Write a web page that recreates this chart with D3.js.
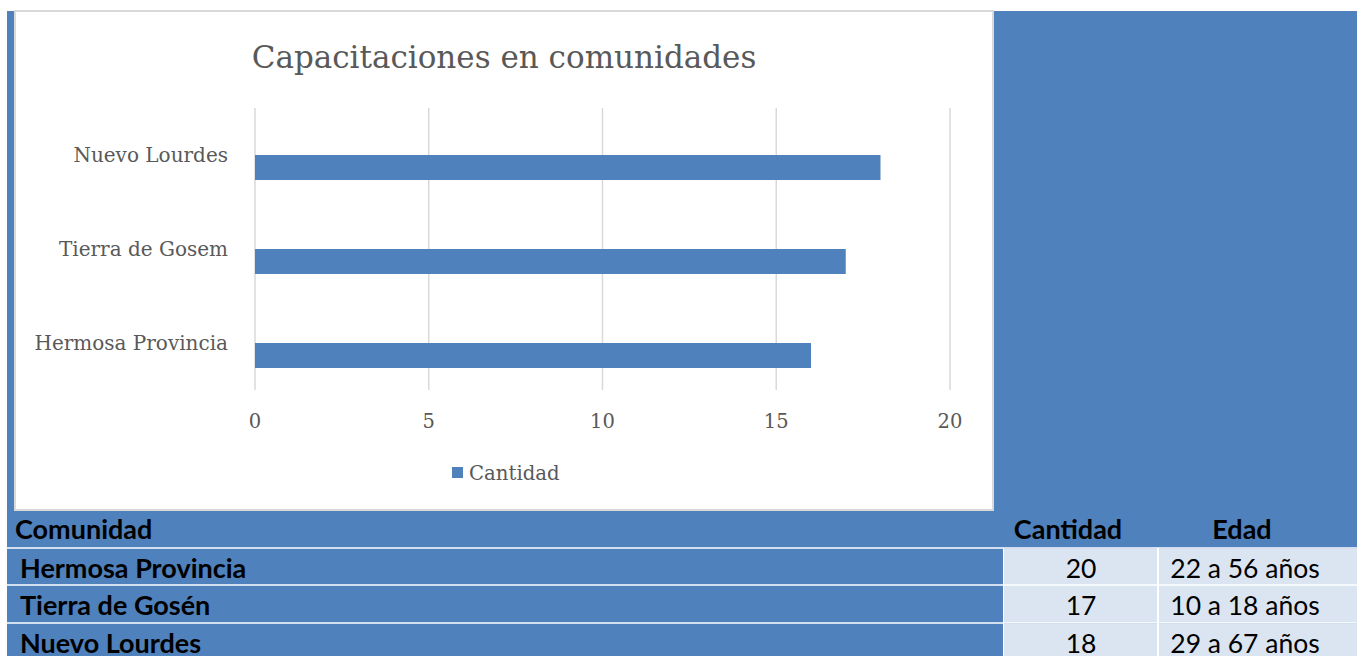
<!DOCTYPE html>
<html><head><meta charset="utf-8">
<script src="https://cdn.jsdelivr.net/npm/d3@7"></script>
<style>html,body{margin:0;padding:0;background:#fff;overflow:hidden}</style>
</head><body><svg id="c" width="1365" height="656"></svg>
<script>
// chart data
const categories = ["Hermosa Provincia", "Tierra de Gosem", "Nuevo Lourdes"];
const cantidad = [16, 17, 18];
const xTicks = [0, 5, 10, 15, 20];
const seriesName = "Cantidad";
const title = "Capacitaciones en comunidades";
// table data
const tableHeaders = ["Comunidad", "Cantidad", "Edad"];
const tableComunidad = ["Hermosa Provincia", "Tierra de Gosén", "Nuevo Lourdes"];
const tableCantidad = [20, 17, 18];
const tableEdad = ["22 a 56 años", "10 a 18 años", "29 a 67 años"];

const BLUE = "#4f81bd", LIGHT = "#dbe5f1", GRAY = "#595959", GRID = "#d9d9d9";
const svg = d3.select("#c");
const serif = "'DejaVu Serif', serif";
const sans = "Lato, 'Open Sans', sans-serif";

// blue background block
svg.append("rect").attr("x", 7).attr("y", 11).attr("width", 1350).attr("height", 645).attr("fill", BLUE);
// chart white box
svg.append("rect").attr("x", 15).attr("y", 11).attr("width", 978).attr("height", 499)
  .attr("fill", "#fff").attr("stroke", GRID).attr("stroke-width", 2);

svg.append("text").attr("x", 504).attr("y", 68).attr("text-anchor", "middle")
  .attr("font-family", serif).attr("font-size", 31).attr("fill", GRAY).text(title);

const x = d3.scaleLinear().domain([0, 20]).range([255, 950]);
const y = d3.scaleBand().domain(categories.slice().reverse()).range([108, 390]);
const g = svg.append("g");
g.selectAll("line.grid").data(xTicks).join("line")
  .attr("x1", d => x(d)).attr("x2", d => x(d)).attr("y1", 108).attr("y2", 390)
  .attr("stroke", GRID).attr("stroke-width", 1.5);
const barH = 25;
g.selectAll("rect.bar").data(categories).join("rect")
  .attr("x", x(0)).attr("y", d => y(d) + y.bandwidth() / 2)
  .attr("width", (d, i) => x(cantidad[i]) - x(0)).attr("height", barH).attr("fill", BLUE);
g.selectAll("text.cat").data(categories).join("text")
  .attr("x", 228).attr("y", d => y(d) + y.bandwidth() / 2 + 7).attr("text-anchor", "end")
  .attr("font-family", serif).attr("font-size", 20).attr("fill", GRAY).text(d => d);
g.selectAll("text.tick").data(xTicks).join("text")
  .attr("x", d => x(d)).attr("y", 428).attr("text-anchor", "middle")
  .attr("font-family", serif).attr("font-size", 19.5).attr("fill", GRAY).text(d => d);
// legend
svg.append("rect").attr("x", 452).attr("y", 467).attr("width", 11).attr("height", 11).attr("fill", BLUE);
svg.append("text").attr("x", 469).attr("y", 480).attr("font-family", serif)
  .attr("font-size", 19.7).attr("fill", GRAY).text(seriesName);

// table
const rowTops = [548, 585, 623];
const rowH = 37;
rowTops.forEach((t, i) => {
  svg.append("rect").attr("x", 1004).attr("y", t + 1).attr("width", 153).attr("height", rowH).attr("fill", LIGHT);
  svg.append("rect").attr("x", 1159).attr("y", t + 1).attr("width", 198).attr("height", rowH).attr("fill", LIGHT);
  svg.append("line").attr("x1", 7).attr("x2", 1357).attr("y1", t).attr("y2", t).attr("stroke", "#fff").attr("stroke-width", 1.5);
  svg.append("line").attr("x1", 1158).attr("x2", 1158).attr("y1", t).attr("y2", t + rowH + 1).attr("stroke", "#fff").attr("stroke-width", 2);
  svg.append("line").attr("x1", 1003.5).attr("x2", 1003.5).attr("y1", t).attr("y2", t + rowH + 1).attr("stroke", "#fff").attr("stroke-width", 1);
  svg.append("text").attr("x", 20).attr("y", t + 30).attr("font-family", sans).attr("font-weight", 700)
    .attr("font-size", 27).attr("fill", "#000").text(tableComunidad[i]);
  svg.append("text").attr("x", 1081).attr("y", t + 30).attr("text-anchor", "middle").attr("font-family", sans)
    .attr("font-size", 26.5).attr("fill", "#000").text(tableCantidad[i]);
  svg.append("text").attr("x", 1245).attr("y", t + 30).attr("text-anchor", "middle").attr("font-family", sans)
    .attr("font-size", 26.5).attr("fill", "#000").text(tableEdad[i]);
});
[[15, "start"], [1068, "middle"], [1242, "middle"]].forEach((p, i) => {
  svg.append("text").attr("x", p[0]).attr("y", 539).attr("text-anchor", p[1]).attr("font-family", sans)
    .attr("font-weight", 700).attr("font-size", 27).attr("fill", "#000").text(tableHeaders[i]);
});
</script></body></html>
